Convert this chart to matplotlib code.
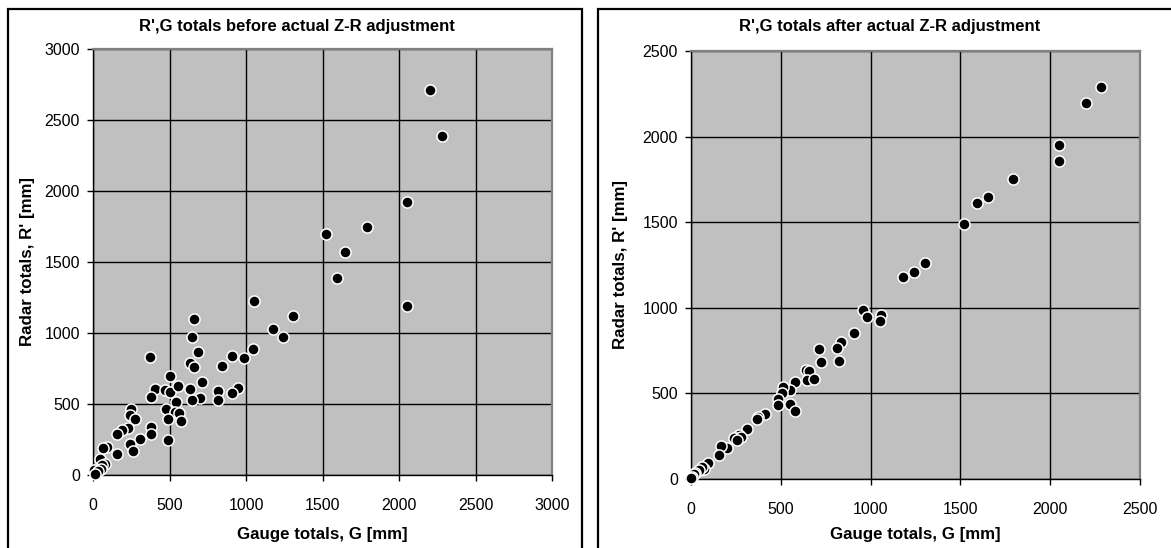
import matplotlib
matplotlib.use("Agg")
import matplotlib.pyplot as plt
from matplotlib.patches import Rectangle

plt.rcParams['font.family'] = ['Liberation Sans', 'DejaVu Sans']

W, H = 1171, 548

# Gauge (G) and radar (R') totals in mm, before the Z-R adjustment
g_before = [2200, 2280, 2050, 1790, 1520, 1650, 1595, 2050,
            1055, 1305, 1175, 1240, 1045, 985, 910, 840,
            950, 910, 820, 820,
            660, 650, 685, 636, 659, 714, 698, 645, 632,
            370, 505, 405, 471, 505, 557, 378, 542, 476, 537, 564, 487, 575, 491,
            249, 240, 277, 227, 187, 381, 381, 306, 156, 240, 262, 156,
            90, 63, 46, 80, 60, 50, 5, 30, 10]
r_before = [2710, 2385, 1920, 1750, 1695, 1570, 1385, 1190,
            1225, 1120, 1030, 970, 890, 825, 835, 765,
            615, 575, 590, 530,
            1100, 970, 865, 788, 760, 655, 545, 530, 608,
            832, 695, 604, 600, 588, 627, 546, 516, 463, 442, 435, 394, 378, 247,
            463, 425, 396, 332, 320, 339, 286, 256, 286, 221, 171, 147,
            198, 189, 114, 80, 70, 40, 35, 25, 10]

# Gauge (G) and radar (R') totals in mm, after the Z-R adjustment
g_after = [2285, 2200, 2050, 2050, 1795, 1655, 1595, 1520, 1305, 1240, 1180,
           960, 980, 1060, 1050, 905, 835, 815, 825, 710, 725, 640, 655, 645,
           687, 580, 550, 510, 505, 487, 485, 550, 580, 410, 375, 365, 310,
           265, 245, 237, 280, 255, 200, 168, 155, 95, 75, 60, 45, 25, 15, 5, 2]
r_after = [2290, 2195, 1950, 1855, 1750, 1650, 1615, 1490, 1260, 1210, 1180,
           990, 945, 960, 920, 855, 800, 765, 690, 757, 682, 637, 632, 577,
           586, 566, 522, 537, 500, 467, 435, 440, 395, 380, 360, 350, 292,
           255, 238, 242, 245, 230, 180, 190, 140, 95, 60, 73, 55, 35, 30, 10, 5]

titles = ["R',G totals before actual Z-R adjustment",
          "R',G totals after actual Z-R adjustment"]
x_label = "Gauge totals, G [mm]"
y_label = "Radar totals, R' [mm]"
limits = [3000, 2500]


def fx(x):
    return x / W


def fy(y):
    return 1 - y / H


fig = plt.figure(figsize=(W / 100, H / 100), dpi=100)
fig.patch.set_facecolor('white')

# chart-area frames
for x0, x1 in [(8, 582), (598, 1185)]:
    fig.add_artist(Rectangle((fx(x0), fy(570)), fx(x1) - fx(x0), fy(9) - fy(570),
                             transform=fig.transFigure, fill=False,
                             edgecolor='black', linewidth=1.6, clip_on=False))

# plot-area boxes in pixels: left, top, right, bottom
boxes = [(93, 49, 552, 475), (691, 51, 1140, 479)]
title_x = [297, 890]
ylab_x = [28, 620]

panels = [(g_before, r_before), (g_after, r_after)]
for i, ((gx, ry), (l, t, r, b)) in enumerate(zip(panels, boxes)):
    ax = fig.add_axes([fx(l), fy(b), fx(r) - fx(l), fy(t) - fy(b)])
    ax.set_facecolor('#c0c0c0')
    lim = limits[i]
    ax.set_xlim(0, lim)
    ax.set_ylim(0, lim)
    ticks = list(range(0, lim + 1, 500))
    ax.set_xticks(ticks)
    ax.set_yticks(ticks)
    ax.grid(True, color='black', linewidth=1.0, zorder=1)
    ax.set_axisbelow(True)
    for side in ['top', 'right']:
        ax.spines[side].set_color('#808080')
        ax.spines[side].set_linewidth(1.6)
    for side in ['left', 'bottom']:
        ax.spines[side].set_color('black')
        ax.spines[side].set_linewidth(1.0)
    ax.tick_params(direction='out', length=4.5, width=1.0, colors='black',
                   labelsize=11.5)
    ax.tick_params(axis='x', pad=12)
    ax.tick_params(axis='y', pad=5)
    ax.plot(gx, ry, linestyle='none', marker='o', markersize=8.0,
            markerfacecolor='black', markeredgecolor='white',
            markeredgewidth=1.1, clip_on=False, zorder=3)

    fig.text(fx(title_x[i]), fy(27), titles[i], ha='center', va='center',
             fontsize=12, fontweight='bold')
    fig.text(fx((l + r) / 2), fy(534), x_label, ha='center', va='center',
             fontsize=12.2, fontweight='bold')
    fig.text(fx(ylab_x[i]), fy((t + b) / 2), y_label, ha='center', va='center',
             rotation=90, fontsize=12.2, fontweight='bold')

fig.savefig('out.png', dpi=100)
